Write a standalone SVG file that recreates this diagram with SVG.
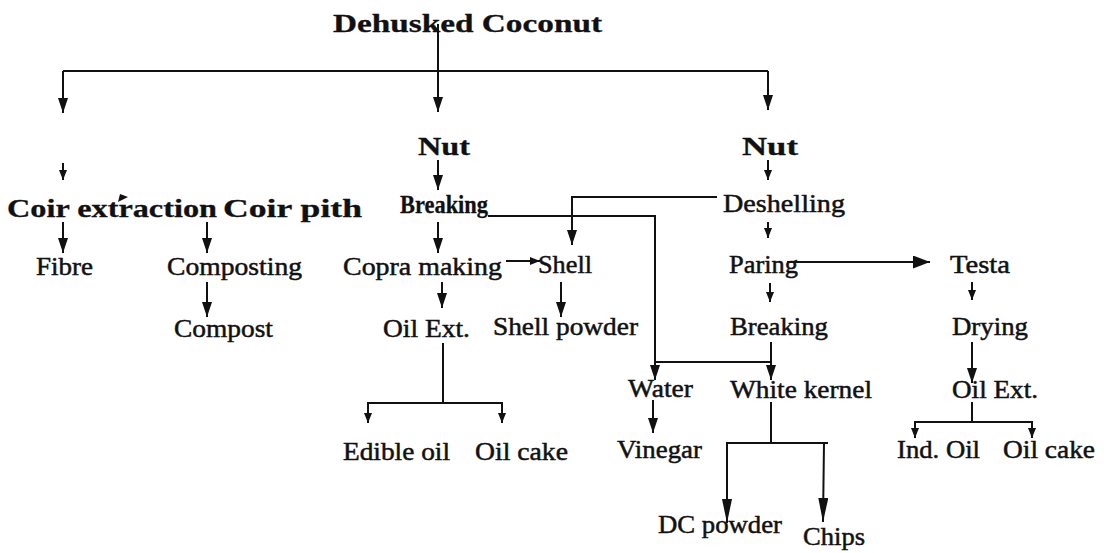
<svg xmlns="http://www.w3.org/2000/svg" width="1110" height="553" viewBox="0 0 1110 553">
<style>
text{font-family:"Liberation Serif","Times New Roman",serif;fill:#111;font-size:26px;stroke:#111;stroke-width:0.5}
.b{font-weight:bold;stroke-width:0.3}
.c{fill:none;stroke:#111;stroke-width:2}
</style>
<defs>
<marker id="a" viewBox="0 0 15 10" refX="15" refY="5" markerWidth="15" markerHeight="10" markerUnits="userSpaceOnUse" orient="auto"><path d="M0,0L15,5L0,10z" fill="#111"/></marker>
<marker id="s" viewBox="0 0 10 8" refX="10" refY="4" markerWidth="10" markerHeight="8" markerUnits="userSpaceOnUse" orient="auto"><path d="M0,0L10,4L0,8z" fill="#111"/></marker>
<marker id="l" viewBox="0 0 17 13" refX="17" refY="6.5" markerWidth="17" markerHeight="13" markerUnits="userSpaceOnUse" orient="auto"><path d="M0,0L17,6.5L0,13z" fill="#111"/></marker>
<marker id="x" viewBox="0 0 24 10" refX="24" refY="5" markerWidth="24" markerHeight="10" markerUnits="userSpaceOnUse" orient="auto"><path d="M0,0L24,5L0,10z" fill="#111"/></marker>
</defs>
<g id="connectors">
<path class="c" d="M438,24V112" marker-end="url(#a)"/>
<path class="c" d="M63,71H768"/>
<path class="c" d="M63,71V113" marker-end="url(#a)"/>
<path class="c" d="M768,71V110" marker-end="url(#a)"/>
<path class="c" d="M63,163V180" marker-end="url(#s)"/>
<path class="c" d="M438,160V190" marker-end="url(#a)"/>
<path class="c" d="M768,160V180" marker-end="url(#s)"/>
<path class="c" d="M717,197H572V245" marker-end="url(#a)"/>
<path class="c" d="M768,222V238" marker-end="url(#s)"/>
<polygon points="118,202 128,197 120,194" fill="#111"/>
<path class="c" d="M63,222V253" marker-end="url(#a)"/>
<path class="c" d="M207,222V253" marker-end="url(#a)"/>
<path class="c" d="M438,222V253" marker-end="url(#a)"/>
<path class="c" d="M488,216H655V380" marker-end="url(#a)"/>
<path class="c" d="M506,261H540" marker-end="url(#s)"/>
<path class="c" d="M787,262H930" marker-end="url(#l)"/>
<path class="c" d="M207,282V317" marker-end="url(#a)"/>
<path class="c" d="M442,282V308" marker-end="url(#a)"/>
<path class="c" d="M561,282V317" marker-end="url(#a)"/>
<path class="c" d="M770,283V302" marker-end="url(#s)"/>
<path class="c" d="M972,282V300" marker-end="url(#s)"/>
<path class="c" d="M443,343V403"/>
<path class="c" d="M443,403H368V423" marker-end="url(#s)"/>
<path class="c" d="M443,403H502V423" marker-end="url(#s)"/>
<path class="c" d="M771,342V380" marker-end="url(#a)"/>
<path class="c" d="M655,362H771"/>
<path class="c" d="M653,400V433" marker-end="url(#a)"/>
<path class="c" d="M771,402V443"/>
<path class="c" d="M771,443H727V523" marker-end="url(#x)"/>
<path class="c" d="M771,443H828"/>
<path class="c" d="M824,443L823,522" marker-end="url(#x)"/>
<path class="c" d="M972,342V383" marker-end="url(#a)"/>
<path class="c" d="M972,402V422"/>
<path class="c" d="M972,422H915V438" marker-end="url(#s)"/>
<path class="c" d="M972,422H1032V438" marker-end="url(#s)"/>
</g>
<g id="n-title"><text class="b" x="333" y="32" font-size="30" textLength="269" lengthAdjust="spacingAndGlyphs">Dehusked Coconut</text></g>
<g id="n-nut1"><text class="b" x="418" y="155" font-size="30" textLength="52" lengthAdjust="spacingAndGlyphs">Nut</text></g>
<g id="n-nut2"><text class="b" x="742" y="155" font-size="30" textLength="56" lengthAdjust="spacingAndGlyphs">Nut</text></g>
<g id="n-coirext"><text class="b" x="7" y="217" font-size="31" textLength="210" lengthAdjust="spacingAndGlyphs">Coir extraction</text></g>
<g id="n-coirpith"><text class="b" x="223" y="217" font-size="31" textLength="139" lengthAdjust="spacingAndGlyphs">Coir pith</text></g>
<g id="n-breaking1"><text class="b" x="400" y="213" font-size="22" textLength="88" lengthAdjust="spacingAndGlyphs">Breaking</text></g>
<g id="n-deshelling"><text x="723" y="212" textLength="122" lengthAdjust="spacingAndGlyphs">Deshelling</text></g>
<g id="n-fibre"><text x="36" y="275" textLength="57" lengthAdjust="spacingAndGlyphs">Fibre</text></g>
<g id="n-composting"><text x="167" y="275" textLength="135" lengthAdjust="spacingAndGlyphs">Composting</text></g>
<g id="n-copra"><text x="343" y="275" textLength="159" lengthAdjust="spacingAndGlyphs">Copra making</text></g>
<g id="n-shell"><text x="538" y="273" textLength="54" lengthAdjust="spacingAndGlyphs">Shell</text></g>
<g id="n-paring"><text x="729" y="273" textLength="69" lengthAdjust="spacingAndGlyphs">Paring</text></g>
<g id="n-testa"><text x="950" y="273" textLength="60" lengthAdjust="spacingAndGlyphs">Testa</text></g>
<g id="n-compost"><text x="174" y="337" textLength="99" lengthAdjust="spacingAndGlyphs">Compost</text></g>
<g id="n-oilext1"><text x="383" y="337" textLength="87" lengthAdjust="spacingAndGlyphs">Oil Ext.</text></g>
<g id="n-shellpowder"><text x="493" y="335" textLength="145" lengthAdjust="spacingAndGlyphs">Shell powder</text></g>
<g id="n-breaking2"><text x="730" y="335" textLength="98" lengthAdjust="spacingAndGlyphs">Breaking</text></g>
<g id="n-drying"><text x="952" y="335" textLength="76" lengthAdjust="spacingAndGlyphs">Drying</text></g>
<g id="n-water"><text x="628" y="397" textLength="65" lengthAdjust="spacingAndGlyphs">Water</text></g>
<g id="n-whitekernel"><text x="730" y="398" textLength="142" lengthAdjust="spacingAndGlyphs">White kernel</text></g>
<g id="n-oilext2"><text x="952" y="398" textLength="86" lengthAdjust="spacingAndGlyphs">Oil Ext.</text></g>
<g id="n-edibleoil"><text x="343" y="460" textLength="107" lengthAdjust="spacingAndGlyphs">Edible oil</text></g>
<g id="n-oilcake1"><text x="475" y="460" textLength="93" lengthAdjust="spacingAndGlyphs">Oil cake</text></g>
<g id="n-vinegar"><text x="617" y="458" textLength="85" lengthAdjust="spacingAndGlyphs">Vinegar</text></g>
<g id="n-indoil"><text x="897" y="458" textLength="83" lengthAdjust="spacingAndGlyphs">Ind. Oil</text></g>
<g id="n-oilcake2"><text x="1003" y="458" textLength="92" lengthAdjust="spacingAndGlyphs">Oil cake</text></g>
<g id="n-dcpowder"><text x="658" y="533" textLength="124" lengthAdjust="spacingAndGlyphs">DC powder</text></g>
<g id="n-chips"><text x="803" y="545" textLength="62" lengthAdjust="spacingAndGlyphs">Chips</text></g>
</svg>
